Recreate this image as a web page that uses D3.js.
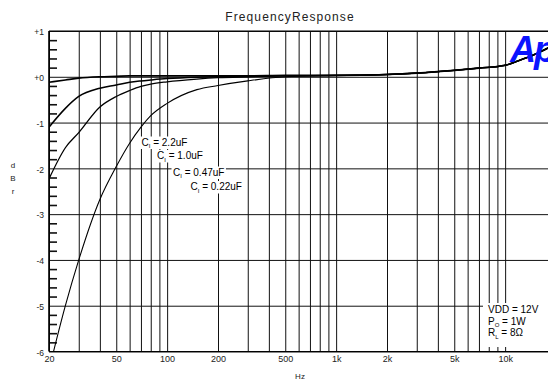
<!DOCTYPE html>
<html>
<head>
<meta charset="utf-8">
<script src="https://cdn.jsdelivr.net/npm/d3@7"></script>
<style>
  html, body { margin: 0; padding: 0; background: #fff; }
  svg { display: block; font-family: "Liberation Sans", Arial, sans-serif; }
</style>
</head>
<body>
<svg id="freqChart" width="548" height="379"></svg>
<script>
// frequencies (Hz) where the curves were read
const freqs = [20, 25, 30, 40, 50, 60, 70, 80, 100, 150, 200, 300, 500, 1000, 2000, 3000, 5000, 7000, 10000, 12000, 15000, 20000];

// dBr for each input capacitor
const ci22 = [-0.12, -0.07, -0.03, 0.0, 0.01, 0.02, 0.02, 0.02, 0.02, 0.02, 0.02, 0.02, 0.03, 0.03, 0.05, 0.08, 0.14, 0.19, 0.25, 0.35, 0.49, 0.72];
const ci10 = [-1.1, -0.69, -0.43, -0.25, -0.18, -0.12, -0.09, -0.07, -0.04, -0.01, 0.0, 0.01, 0.02, 0.03, 0.05, 0.08, 0.14, 0.19, 0.25, 0.35, 0.49, 0.72];
const ci047 = [-2.23, -1.55, -1.22, -0.66, -0.43, -0.3, -0.21, -0.16, -0.11, -0.05, -0.02, 0.0, 0.02, 0.03, 0.05, 0.08, 0.14, 0.19, 0.25, 0.35, 0.49, 0.72];
const ci022 = [-6.4, -5.0, -4.0, -2.68, -1.96, -1.45, -1.1, -0.85, -0.58, -0.28, -0.19, -0.09, 0.0, 0.03, 0.05, 0.08, 0.14, 0.19, 0.25, 0.35, 0.49, 0.72];

const seriesNames = ["2.2uF", "1.0uF", "0.47uF", "0.22uF"];
const seriesValues = [ci22, ci10, ci047, ci022];

const xTicks = [20, 50, 100, 200, 500, 1000, 2000, 5000, 10000, 20000];
const xTickLabels = ["20", "50", "100", "200", "500", "1k", "2k", "5k", "10k", "20k"];
const yTicks = [1, 0, -1, -2, -3, -4, -5, -6];
const yTickLabels = ["+1", "+0", "-1", "-2", "-3", "-4", "-5", "-6"];
const notes = ["VDD = 12V", "P|O| = 1W", "R|L| = 8\u03A9"];

const svg = d3.select("#freqChart");
const margens = { left: 49, top: 31, right: 556, bottom: 351.5 };

const mapX = d3.scaleLog().domain([20, 20000]).range([margens.left, margens.right]);
const mapY = d3.scaleLinear().domain([-6, 1]).range([margens.bottom, margens.top]);

// grid lines: every 1-2-3..9 per decade
const gridFreqs = [];
[10, 100, 1000, 10000].forEach((dec) => {
    for (let k = 1; k <= 9; k++) {
        const f = k * dec;
        if (f >= 20 && f <= 20000) gridFreqs.push(f);
    }
});
gridFreqs.push(20000);

svg.append("g")
    .attr("class", "grid-x")
    .attr("transform", `translate(0, ${margens.bottom})`)
    .call(d3.axisBottom(mapX).tickValues(gridFreqs).tickSize(-(margens.bottom - margens.top)).tickFormat(""))
    .call((g) => g.select(".domain").remove())
    .call((g) => g.selectAll("line").attr("stroke", "#111").attr("stroke-width", 1));

svg.append("g")
    .attr("class", "grid-y")
    .attr("transform", `translate(${margens.left}, 0)`)
    .call(d3.axisLeft(mapY).tickValues(yTicks).tickSize(-(margens.right - margens.left)).tickFormat(""))
    .call((g) => g.select(".domain").remove())
    .call((g) => g.selectAll("line").attr("stroke", "#111").attr("stroke-width", 1));

// minor ticks on the left edge, every 0.2 dB
const minorTicks = d3.range(-6, 1.001, 0.2).map((v) => Math.round(v * 10) / 10).filter((v) => Math.abs(v - Math.round(v)) > 0.01);
svg.append("g")
    .attr("transform", `translate(${margens.left}, 0)`)
    .call(d3.axisRight(mapY).tickValues(minorTicks).tickSize(8).tickFormat(""))
    .call((g) => g.select(".domain").remove())
    .call((g) => g.selectAll("line").attr("stroke", "#111").attr("stroke-width", 1.6));

// frame
svg.append("line")
    .attr("x1", margens.left).attr("x2", margens.left)
    .attr("y1", margens.top).attr("y2", margens.bottom)
    .attr("stroke", "#000").attr("stroke-width", 1.6);
svg.append("line")
    .attr("x1", margens.left).attr("x2", margens.right)
    .attr("y1", margens.top).attr("y2", margens.top)
    .attr("stroke", "#000").attr("stroke-width", 1.2);
svg.append("line")
    .attr("x1", margens.left).attr("x2", margens.right)
    .attr("y1", margens.bottom).attr("y2", margens.bottom)
    .attr("stroke", "#000").attr("stroke-width", 1.2);

// tick labels
svg.append("g")
    .attr("transform", `translate(0, ${margens.bottom})`)
    .call(d3.axisBottom(mapX).tickValues(xTicks).tickSize(0).tickPadding(4).tickFormat((d, i) => xTickLabels[i]))
    .call((g) => g.select(".domain").remove())
    .call((g) => g.selectAll("text").attr("font-size", 9).attr("fill", "#222")
        .attr("font-family", "Liberation Sans, Arial, sans-serif"));

svg.append("g")
    .attr("transform", `translate(${margens.left}, 0)`)
    .call(d3.axisLeft(mapY).tickValues(yTicks).tickSize(0).tickPadding(5).tickFormat((d, i) => yTickLabels[i]))
    .call((g) => g.select(".domain").remove())
    .call((g) => g.selectAll("text").attr("font-size", 8.5).attr("fill", "#222").attr("dy", "0.45em")
        .attr("font-family", "Liberation Sans, Arial, sans-serif"));

// curves
svg.append("clipPath").attr("id", "plotClip")
    .append("rect")
    .attr("x", margens.left).attr("y", margens.top)
    .attr("width", margens.right - margens.left).attr("height", margens.bottom - margens.top);

const line = d3.line()
    .x((d) => mapX(d[0]))
    .y((d) => mapY(d[1]))
    .curve(d3.curveMonotoneX);

const curveWidths = [1.6, 1.5, 1.3, 1.1];
svg.append("g")
    .attr("clip-path", "url(#plotClip)")
    .selectAll("path")
    .data(seriesValues)
    .enter()
    .append("path")
    .attr("fill", "none")
    .attr("stroke", "#000")
    .attr("stroke-width", (d, i) => curveWidths[i])
    .attr("d", (d) => line(freqs.map((f, i) => [f, d[i]])));

// text with a white box behind it; "|" marks a subscript
function boxedText(x, y, str, size) {
    const g = svg.append("g");
    const bg = g.append("rect").attr("fill", "#fff");
    const t = g.append("text").attr("x", x).attr("y", y).attr("font-size", size).attr("fill", "#000");
    const parts = str.split("|");
    parts.forEach((p, i) => {
        if (i % 2 === 1) {
            t.append("tspan").attr("font-size", size * 0.6).attr("dy", 2.5).text(p);
        } else {
            t.append("tspan").attr("dy", i === 0 ? 0 : -2.5).attr("xml:space", "preserve").text(p);
        }
    });
    const b = t.node().getBBox();
    bg.attr("x", b.x - 1.5).attr("y", b.y).attr("width", b.width + 3).attr("height", b.height);
    return g;
}

const labelPos = [[141.5, 145.5], [157, 159], [173, 175.5], [190.5, 190]];
seriesNames.forEach((name, i) => {
    boxedText(labelPos[i][0], labelPos[i][1], `C|I| = ${name}`, 10);
});

svg.append("rect").attr("x", 483).attr("y", 303).attr("width", 70).attr("height", 44).attr("fill", "#fff");
notes.forEach((n, i) => {
    boxedText(488, 313 + i * 11.7, n, 10);
});

// titles
svg.append("text")
    .attr("x", 290).attr("y", 21)
    .attr("text-anchor", "middle")
    .attr("font-size", 12)
    .attr("letter-spacing", 1.1)
    .attr("fill", "#222")
    .text("FrequencyResponse");

["d", "B", "r"].forEach((ch, i) => {
    svg.append("text")
        .attr("x", 13).attr("y", 168 + i * 13)
        .attr("text-anchor", "middle")
        .attr("font-size", 8)
        .attr("fill", "#222")
        .text(ch);
});

svg.append("text")
    .attr("x", 300).attr("y", 379)
    .attr("text-anchor", "middle")
    .attr("font-size", 8)
    .attr("fill", "#222")
    .text("Hz");

// Ap logo
svg.append("text")
    .attr("x", 510).attr("y", 62)
    .attr("font-size", 36)
    .attr("font-weight", "bold")
    .attr("font-style", "italic")
    .attr("letter-spacing", -2)
    .attr("fill", "#0a14ff")
    .text("Ap");
</script>
</body>
</html>
